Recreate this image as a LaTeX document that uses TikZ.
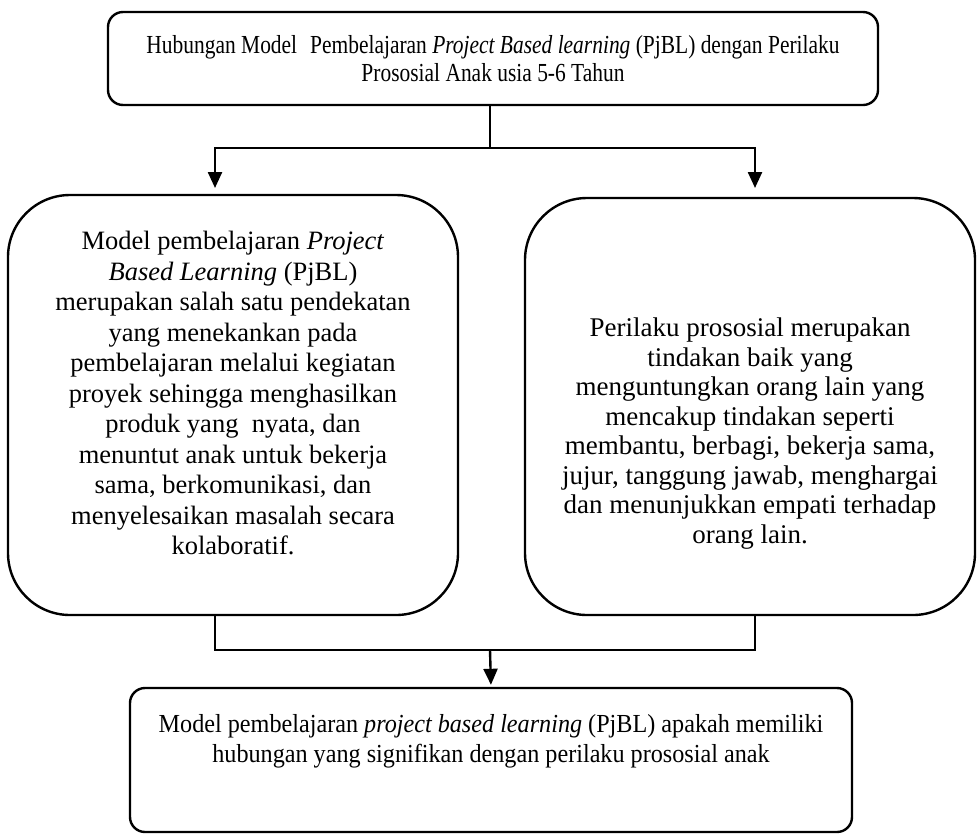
\documentclass[tikz,border=0pt]{standalone}
\usepackage{fontspec}
\setmainfont{Liberation Serif}
\newfontfamily\judulfont[FakeStretch=0.825]{Liberation Serif}
\newfontfamily\hasilfont[FakeStretch=0.93]{Liberation Serif}
\usetikzlibrary{arrows.meta,positioning}

\begin{document}
\begin{tikzpicture}[
    x=1pt, y=-1pt,
    box/.style={rectangle, draw=black, line width=2.4pt},
    bigbox/.style={box, rounded corners=62pt, minimum width=450pt},
    smallbox/.style={box, rounded corners=15pt},
    teks/.style={font=\fontsize{26.5}{30.5}\selectfont, align=center},
    teksjudul/.style={font=\judulfont\fontsize{26}{28}\selectfont, align=center},
    tekshasil/.style={font=\hasilfont\fontsize{26}{30}\selectfont, align=center},
    link/.style={line width=2.4pt},
    panah/.style={link, -{Triangle[length=16pt,width=14pt]}}
]
\useasboundingbox (0,0) rectangle (979,839);

% Judul
\node[smallbox, teksjudul, minimum width=770pt, minimum height=93pt] (judul) at (493,58.5)
    {Hubungan Model\enspace Pembelajaran \textit{Project Based learning} (PjBL) dengan Perilaku\\
     Prososial Anak usia 5-6 Tahun};

% Variabel X dan Y
\node[bigbox, minimum height=420pt] (pjbl) at (233,405) {};
\node[teks] (pjblteks) at ([yshift=12pt]pjbl.center)
    {Model pembelajaran \textit{Project}\\
     \textit{Based Learning} (PjBL)\\
     merupakan salah satu pendekatan\\
     yang menekankan pada\\
     pembelajaran melalui kegiatan\\
     proyek sehingga menghasilkan\\
     produk yang\enspace nyata, dan\\
     menuntut anak untuk bekerja\\
     sama, berkomunikasi, dan\\
     menyelesaikan masalah secara\\
     kolaboratif.};
\node[bigbox, minimum height=417pt] (prososial) at (750,406.5) {};
\node[teks, font=\fontsize{27}{29.5}\selectfont] (prososialteks) at ([yshift=-27pt]prososial.center)
    {Perilaku prososial merupakan\\
     tindakan baik yang\\
     menguntungkan orang lain yang\\
     mencakup tindakan seperti\\
     membantu, berbagi, bekerja sama,\\
     jujur, tanggung jawab, menghargai\\
     dan menunjukkan empati terhadap\\
     orang lain.};

% Hipotesis
\node[smallbox, minimum width=722pt, minimum height=144pt] (hasil) at (491,760) {};
\node[tekshasil] (hasilteks) at ([yshift=19pt]hasil.center)
    {Model pembelajaran \textit{project based learning} (PjBL) apakah memiliki\\
     hubungan yang signifikan dengan perilaku prososial anak};

% Garis penghubung atas
\coordinate (cabang) at (490,148);
\coordinate (ujungkiri) at (215,188);
\coordinate (ujungkanan) at (755,188);
\draw[link] (judul.south -| cabang) -- (cabang);
\draw[panah] (cabang) -| (ujungkiri);
\draw[panah] (cabang) -| (ujungkanan);

% Garis penghubung bawah
\coordinate (kiribawah) at (215,650);
\coordinate (kananbawah) at (755,650);
\coordinate (gabung) at (490,650);
\draw[link] (kiribawah |- pjbl.south) -- (kiribawah) -- (kananbawah) -- (kananbawah |- prososial.south);
\draw[panah, shorten >=2pt] (gabung) -- (hasil.north);

\end{tikzpicture}
\end{document}
